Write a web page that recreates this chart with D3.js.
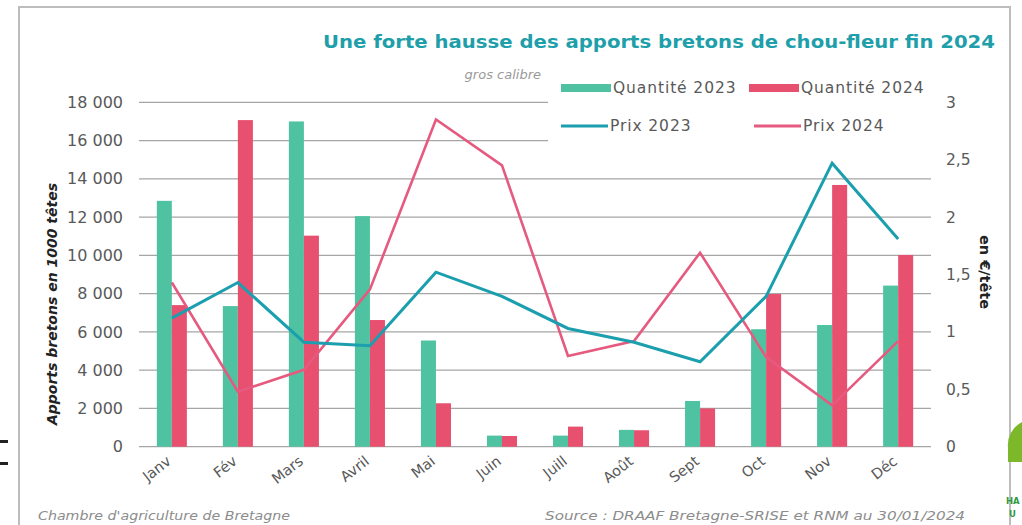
<!DOCTYPE html>
<html>
<head>
<meta charset="utf-8">
<script src="https://cdn.jsdelivr.net/npm/d3@7"></script>
<style>
    body { margin: 0; background: #fff; }
    svg { display: block; }
</style>
</head>
<body>
<svg id="chart" width="1022" height="525"></svg>
<script>
// Data
const months = ["Janv", "Fév", "Mars", "Avril", "Mai", "Juin", "Juill", "Août", "Sept", "Oct", "Nov", "Déc"];
const qty2023 = [12850, 7350, 17000, 12050, 5550, 580, 580, 880, 2390, 6140, 6360, 8420];
const qty2024 = [7400, 17070, 11030, 6620, 2270, 560, 1050, 860, 2000, 7980, 13680, 10020];
const prix2023 = [1.12, 1.43, 0.91, 0.88, 1.52, 1.31, 1.03, 0.91, 0.74, 1.31, 2.47, 1.81];
const prix2024 = [1.43, 0.48, 0.67, 1.37, 2.85, 2.45, 0.79, 0.92, 1.69, 0.78, 0.36, 0.92];
const leftTicks = [0, 2000, 4000, 6000, 8000, 10000, 12000, 14000, 16000, 18000];
const rightTicks = [0, 0.5, 1, 1.5, 2, 2.5, 3];

const COLORS = {
    bar2023: "#4fc3a1",
    bar2024: "#e8506f",
    line2023: "#1b9fae",
    line2024: "#e55a7e",
    title: "#1e9faa",
    grid: "#a6a6a6",
    text: "#595959"
};

const svg = d3.select("#chart");
const margins = { left: 139, right: 931, top: 102.3, bottom: 446.7 };

// frame
svg.append("rect")
    .attr("x", 19).attr("y", 7)
    .attr("width", 991).attr("height", 540)
    .attr("fill", "#fff")
    .attr("stroke", "#bdbdbd")
    .attr("stroke-width", 2);

const xScale = d3.scaleBand()
    .domain(months)
    .range([margins.left, margins.right])
    .paddingInner(0.545)
    .paddingOuter(0.27);

const xScale1 = d3.scaleBand()
    .domain(["2023", "2024"])
    .range([0, xScale.bandwidth()]);

const yScale = d3.scaleLinear().domain([0, 18000]).range([margins.bottom, margins.top]);
const yPrice = d3.scaleLinear().domain([0, 3]).range([margins.bottom, margins.top]);

// gridlines
svg.append("g")
    .attr("class", "grid")
    .selectAll("line")
    .data(leftTicks)
    .enter()
    .append("line")
    .attr("x1", margins.left)
    .attr("x2", margins.right)
    .attr("y1", (d) => yScale(d))
    .attr("y2", (d) => yScale(d))
    .attr("stroke", COLORS.grid)
    .attr("stroke-width", 1.3);

// left axis
const yAxis = svg.append("g")
    .attr("class", "y-axis")
    .attr("transform", "translate(123,0)")
    .call(d3.axisLeft(yScale).tickValues(leftTicks).tickSize(0).tickFormat((d) => d3.format(",")(d).replace(",", " ")));
yAxis.select(".domain").remove();
yAxis.selectAll("text")
    .attr("x", 0)
    .attr("font-family", "DejaVu Sans")
    .attr("font-size", 16)
    .attr("fill", COLORS.text);

// right axis
const yAxisRight = svg.append("g")
    .attr("class", "y-axis-right")
    .attr("transform", "translate(946,0)")
    .call(d3.axisRight(yPrice).tickValues(rightTicks).tickSize(0).tickFormat((d) => String(d).replace(".", ",")));
yAxisRight.select(".domain").remove();
yAxisRight.selectAll("text")
    .attr("x", 0)
    .attr("font-family", "DejaVu Sans")
    .attr("font-size", 15.5)
    .attr("fill", COLORS.text);

// bars
const barData = months.map((m, i) => ({ month: m, values: [
    { key: "2023", value: qty2023[i] },
    { key: "2024", value: qty2024[i] }
] }));

svg.selectAll(".month")
    .data(barData)
    .enter()
    .append("g")
    .attr("class", "month")
    .attr("transform", (d) => `translate(${xScale(d.month)},0)`)
    .selectAll("rect")
    .data((d) => d.values)
    .enter()
    .append("rect")
    .attr("x", (d) => xScale1(d.key))
    .attr("y", (d) => yScale(d.value))
    .attr("width", xScale1.bandwidth())
    .attr("height", (d) => yScale(0) - yScale(d.value))
    .attr("fill", (d) => (d.key == "2023" ? COLORS.bar2023 : COLORS.bar2024));

// price lines
const line = d3.line()
    .x((d, i) => xScale(months[i]) + xScale.bandwidth() / 2)
    .y((d) => yPrice(d));

svg.append("path")
    .datum(prix2024)
    .attr("d", line)
    .attr("fill", "none")
    .attr("stroke", COLORS.line2024)
    .attr("stroke-width", 2.6);

svg.append("path")
    .datum(prix2023)
    .attr("d", line)
    .attr("fill", "none")
    .attr("stroke", COLORS.line2023)
    .attr("stroke-width", 3);

// x labels, rotated
svg.append("g")
    .attr("class", "x-axis")
    .selectAll("text")
    .data(months)
    .enter()
    .append("text")
    .attr("transform", (d) => `translate(${xScale(d) + xScale.bandwidth() / 2 - 6},${455}) rotate(-38)`)
    .attr("text-anchor", "end")
    .attr("dy", "0.7em")
    .attr("font-family", "DejaVu Sans")
    .attr("font-size", 14.5)
    .attr("fill", COLORS.text)
    .text((d) => d);

// legend (white box hides gridlines)
const legend = svg.append("g").attr("class", "legend");
legend.append("rect")
    .attr("x", 548).attr("y", 68)
    .attr("width", 385).attr("height", 76)
    .attr("fill", "#fff");

const legendItems = [
    { label: "Quantité 2023", color: COLORS.bar2023, type: "bar", x: 561, y: 88 },
    { label: "Quantité 2024", color: COLORS.bar2024, type: "bar", x: 749, y: 88 },
    { label: "Prix 2023", color: COLORS.line2023, type: "line", x: 561, y: 126 },
    { label: "Prix 2024", color: COLORS.line2024, type: "line", x: 754, y: 126 }
];

legendItems.forEach((d) => {
    legend.append("rect")
        .attr("x", d.x)
        .attr("y", d.y - (d.type == "bar" ? 4 : 1.5))
        .attr("width", d.type == "line" ? 47 : 50)
        .attr("height", d.type == "bar" ? 8 : 3)
        .attr("fill", d.color);
    legend.append("text")
        .attr("x", d.x + (d.type == "line" ? 49 : 52))
        .attr("y", d.y)
        .attr("dy", "0.35em")
        .attr("font-family", "DejaVu Sans")
        .attr("font-size", 15.5)
        .attr("letter-spacing", 0.9)
        .attr("fill", COLORS.text)
        .text(d.label);
});

// title + subtitle
svg.append("text")
    .attr("x", 995).attr("y", 48)
    .attr("text-anchor", "end")
    .attr("font-family", "DejaVu Sans")
    .attr("font-weight", "bold")
    .attr("font-size", 18)
    .attr("textLength", 672)
    .attr("lengthAdjust", "spacingAndGlyphs")
    .attr("fill", COLORS.title)
    .text("Une forte hausse des apports bretons de chou-fleur fin 2024");

svg.append("text")
    .attr("x", 541).attr("y", 79)
    .attr("text-anchor", "end")
    .attr("font-family", "DejaVu Sans")
    .attr("font-style", "italic")
    .attr("font-size", 13)
    .attr("fill", "#9a9a9a")
    .text("gros calibre");

// axis titles
svg.append("text")
    .attr("transform", "translate(57,304) rotate(-90)")
    .attr("text-anchor", "middle")
    .attr("font-family", "DejaVu Sans")
    .attr("font-weight", "bold")
    .attr("font-style", "italic")
    .attr("font-size", 14)
    .attr("fill", "#222")
    .text("Apports bretons en 1000 têtes");

svg.append("text")
    .attr("transform", "translate(980,272) rotate(90)")
    .attr("text-anchor", "middle")
    .attr("font-family", "DejaVu Sans")
    .attr("font-weight", "bold")
    .attr("font-size", 14.5)
    .attr("fill", "#222")
    .text("en €/tête");

// footer
svg.append("text")
    .attr("x", 38).attr("y", 520)
    .attr("font-family", "DejaVu Sans")
    .attr("font-style", "italic")
    .attr("font-size", 13)
    .attr("textLength", 252)
    .attr("lengthAdjust", "spacingAndGlyphs")
    .attr("fill", "#8c8c8c")
    .text("Chambre d'agriculture de Bretagne");

svg.append("text")
    .attr("x", 965).attr("y", 520)
    .attr("text-anchor", "end")
    .attr("font-family", "DejaVu Sans")
    .attr("font-style", "italic")
    .attr("font-size", 13)
    .attr("textLength", 420)
    .attr("lengthAdjust", "spacingAndGlyphs")
    .attr("fill", "#8c8c8c")
    .text("Source : DRAAF Bretagne-SRISE et RNM au 30/01/2024");

// cropped neighbours at the picture edges
svg.append("path")
    .attr("d", "M1022,422 A26,26 0 0 0 1008,448 L1008,462 L1022,462 Z")
    .attr("fill", "#7cb829");
svg.append("text")
    .attr("x", 1006).attr("y", 504)
    .attr("font-family", "DejaVu Sans")
    .attr("font-weight", "bold")
    .attr("font-size", 8.5)
    .attr("fill", "#2f9a3c")
    .text("HA");
svg.append("text")
    .attr("x", 1009).attr("y", 517)
    .attr("font-family", "DejaVu Sans")
    .attr("font-weight", "bold")
    .attr("font-size", 8.5)
    .attr("fill", "#2f9a3c")
    .text("U");
svg.append("rect").attr("x", 0).attr("y", 440).attr("width", 8).attr("height", 3).attr("fill", "#222");
svg.append("rect").attr("x", 0).attr("y", 462).attr("width", 8).attr("height", 3).attr("fill", "#222");
</script>
</body>
</html>
